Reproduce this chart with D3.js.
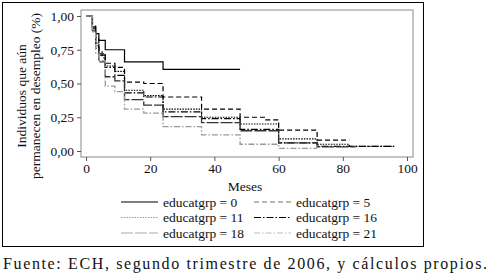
<!DOCTYPE html>
<meta charset="utf-8">
<script src="https://d3js.org/d3.v7.min.js"></script>
<style>
  body { margin: 0; background: #fff; }
  text { font-family: "Liberation Serif", "DejaVu Serif", serif; fill: #111; }
</style>
<body>
<div id="chart"></div>
<script>
// step points [month, survival] per group
var group0  = [[0,1],[1,1],[2,0.92],[3,0.87],[4,0.82],[6,0.75],[12,0.66],[24,0.605],[48,0.605]];
var group5  = [[1,1],[2,0.93],[3,0.84],[4,0.74],[5,0.69],[6,0.65],[9,0.62],[12,0.51],[18,0.50],[24,0.40],[36,0.31],[48,0.25],[56,0.23],[60,0.155],[72,0.08],[82,0.08]];
var group11 = [[1,1],[2,0.90],[3,0.78],[4,0.72],[6,0.63],[9,0.59],[12,0.45],[18,0.41],[24,0.31],[36,0.25],[48,0.20],[60,0.09],[72,0.05],[82,0.035],[96,0.035]];
var group16 = [[1,1],[2,0.91],[3,0.80],[4,0.71],[6,0.62],[9,0.56],[12,0.43],[18,0.40],[24,0.29],[36,0.24],[48,0.16],[60,0.06],[72,0.035],[96,0.035]];
var group18 = [[1,1],[2,0.89],[3,0.76],[4,0.66],[6,0.55],[9,0.52],[12,0.38],[18,0.34],[24,0.255],[36,0.21],[48,0.15],[60,0.06],[72,0.03],[84,0.03]];
var group21 = [[1,1],[2,0.88],[3,0.72],[4,0.67],[6,0.48],[9,0.44],[12,0.31],[18,0.28],[24,0.18],[36,0.12],[48,0.05],[60,0.02],[72,0.02]];

var groupNames = ["educatgrp = 0", "educatgrp = 5", "educatgrp = 11", "educatgrp = 16", "educatgrp = 18", "educatgrp = 21"];
var groupData = [group0, group5, group11, group16, group18, group21];
var xTicks = [0, 20, 40, 60, 80, 100];
var yTicks = [0, 0.25, 0.5, 0.75, 1];

// line style per group (plot, legend colour)
var styles = [
  {color: "#000", key: "#000", dash: null, w: 1.2},
  {color: "#000", key: "#777", dash: "5,3", w: 1.2},
  {color: "#000", key: "#999", dash: "1.5,1.2", w: 1.1},
  {color: "#000", key: "#000", dash: "7,2,1.5,2", w: 1.2},
  {color: "#333", key: "#aaa", dash: "12,2", w: 1.3},
  {color: "#999", key: "#bbb", dash: "6,2,1.5,2", w: 1.3}
];

var W = 490, H = 278;
var svg = d3.select("#chart").append("svg").attr("width", W).attr("height", H);

// outer frame
svg.append("rect").attr("x", 2.5).attr("y", 2.5).attr("width", 421).attr("height", 244)
  .attr("fill", "none").attr("stroke", "#000").attr("stroke-width", 1);

// plot region
svg.append("rect").attr("x", 81).attr("y", 10).attr("width", 332).attr("height", 147)
  .attr("fill", "#fff").attr("stroke", "#8a8a8a").attr("stroke-width", 1);

var x = d3.scaleLinear().domain([0, 100]).range([86, 407]);
var y = d3.scaleLinear().domain([0, 1]).range([151, 16]);

var fmt = function(d) { return d3.format(".2f")(d).replace(".", ","); };

svg.append("g").attr("transform", "translate(81,0)")
  .call(d3.axisLeft(y).tickValues(yTicks).tickSize(4).tickPadding(3).tickFormat(fmt))
  .call(function(g) { g.select(".domain").remove(); });

svg.append("g").attr("transform", "translate(0,157)")
  .call(d3.axisBottom(x).tickValues(xTicks).tickSize(4).tickPadding(2))
  .call(function(g) { g.select(".domain").remove(); });

svg.selectAll(".tick line").attr("stroke", "#555");
svg.selectAll(".tick text").style("font-size", "13.5px").attr("fill", "#111");

// curves
var line = d3.line().curve(d3.curveStepAfter)
  .x(function(d) { return x(d[0]); })
  .y(function(d) { return y(d[1]); });

groupData.forEach(function(data, i) {
  svg.append("path").datum(data)
    .attr("fill", "none")
    .attr("stroke", styles[i].color)
    .attr("stroke-width", styles[i].w)
    .attr("stroke-dasharray", styles[i].dash)
    .attr("d", line);
});

// axis titles
svg.append("text").attr("x", 245).attr("y", 191).attr("text-anchor", "middle")
  .style("font-size", "13.5px").text("Meses");

var yt = svg.append("text").attr("transform", "translate(26,96) rotate(-90)")
  .attr("text-anchor", "middle").style("font-size", "13.5px");
yt.append("tspan").attr("x", 0).attr("dy", 0).text("Individuos que aún");
yt.append("tspan").attr("x", 0).attr("dy", 13.5).text("permanecen en desempleo (%)");

// legend
var legend = svg.append("g");
groupNames.forEach(function(name, i) {
  var col = i % 2, row = Math.floor(i / 2);
  var lx = col === 0 ? 121 : 254;
  var ly = 202 + row * 15.5;
  legend.append("line")
    .attr("x1", lx).attr("x2", lx + 37).attr("y1", ly).attr("y2", ly)
    .attr("stroke", styles[i].key)
    .attr("stroke-width", 1.1)
    .attr("stroke-dasharray", styles[i].dash);
  legend.append("text").attr("x", lx + 42).attr("y", ly + 4.5)
    .style("font-size", "13.5px").text(name);
});

// source note
svg.append("text").attr("x", 3).attr("y", 269)
  .attr("textLength", 484).attr("lengthAdjust", "spacing")
  .style("font-size", "16px")
  .text("Fuente: ECH, segundo trimestre de 2006, y cálculos propios.");
</script>
</body>
